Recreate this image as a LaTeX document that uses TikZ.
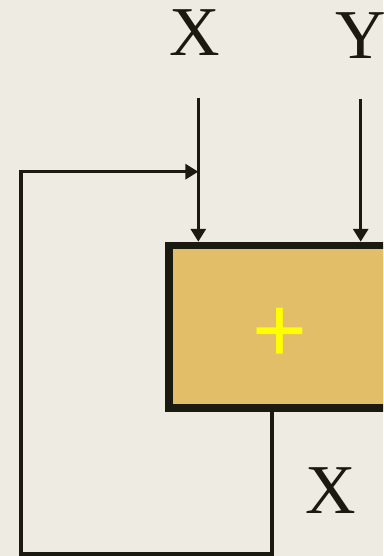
\documentclass[tikz,border=0pt]{standalone}
\usepackage{fontspec}
\setmainfont{Liberation Serif}
\newfontfamily\signfont{Liberation Sans}
\usetikzlibrary{arrows.meta}
\definecolor{paper}{RGB}{238,235,226}
\definecolor{ink}{RGB}{26,26,16}
\definecolor{adderfill}{RGB}{227,190,104}
\definecolor{signyellow}{RGB}{255,255,0}
\tikzset{
  wire/.style={draw=ink, line width=3.3pt},
  flow/.style={wire, -{Triangle[length=13pt,width=15pt]}},
  varlabel/.style={inner sep=0pt, text=ink, font=\fontsize{70}{70}\selectfont},
  adder/.style={draw=ink, fill=adderfill, line width=7.5pt, rectangle,
    minimum width=231pt, minimum height=162.5pt, inner sep=0pt},
}
\begin{document}
\begin{tikzpicture}[x=1pt,y=-1pt]
  \fill[paper] (0,0) rectangle (383,556);
  \useasboundingbox (0,0) rectangle (383,556);
  \begin{scope}
    \clip (0,0) rectangle (383,556);
    % the adder block, running off the right edge
    \node[adder] (sum) at (284.5,326.75) {};
    \node[inner sep=0pt, text=signyellow, font=\signfont\fontsize{94}{94}\selectfont] (plus) at (280,335.6) {+};
    % input and output names
    \node[varlabel] (lx) at (195,33) {X};
    \node[varlabel] (ly) at (361,36) {Y};
    \node[varlabel] (lout) at (331,491) {X};
    % input wires
    \coordinate (xtop) at (198.3,97.7);
    \coordinate (ytop) at (360.7,99);
    \draw[flow] (xtop) -- (xtop |- sum.north);
    \draw[flow] (ytop) -- (ytop |- sum.north);
    % feedback loop from the output back into the X wire
    \coordinate (fbout) at (272,0);
    \coordinate (fbjoin) at (198.3,171.7);
    \draw[flow] (fbout |- sum.south) -- (272,554) -- (21,554) -- (21,171.7) -- (fbjoin);
  \end{scope}
\end{tikzpicture}
\end{document}
